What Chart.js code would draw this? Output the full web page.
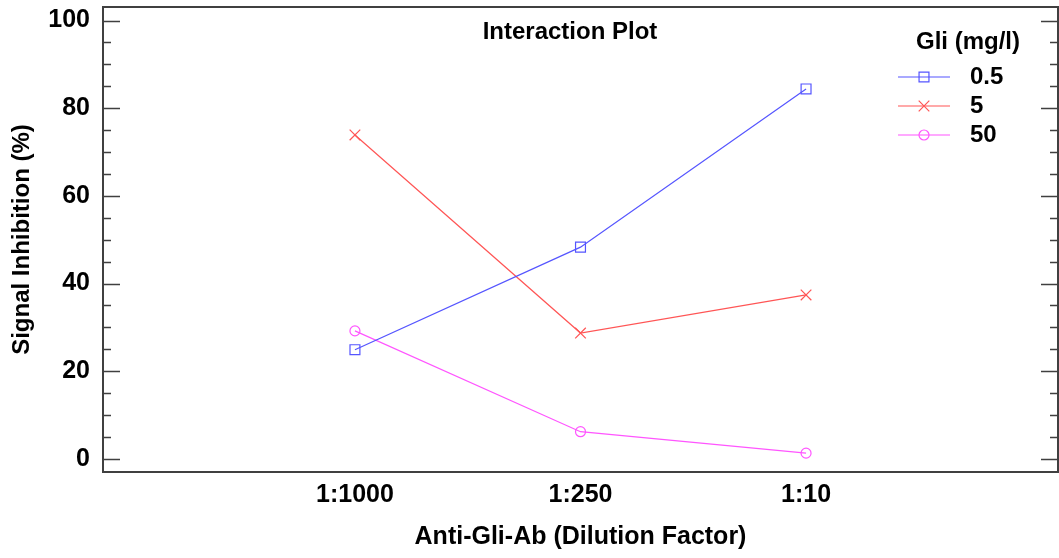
<!DOCTYPE html>
<html>
<head>
<meta charset="utf-8">
<title>Interaction Plot</title>
<script src="https://cdn.jsdelivr.net/npm/chart.js@4"></script>
<style>
  html, body { margin: 0; padding: 0; background: #fff; }
  #wrap { width: 1059px; height: 558px; }
</style>
</head>
<body>
<div id="wrap"><canvas id="chart" width="1059" height="558"></canvas></div>
<script>
// categories on the x axis (dilution factor)
const dilutions = ['1:1000', '1:250', '1:10'];
// one series per Gli concentration
const seriesNames = ['0.5', '5', '50'];
const gli05 = [24.9, 48.3, 84.4];
const gli5 = [73.9, 28.7, 37.4];
const gli50 = [29.2, 6.2, 1.3];
const yTicks = [0, 20, 40, 60, 80, 100];

const FONT = 'Liberation Sans, Arial, sans-serif';
const FRAME = '#404040';

const colors = ['rgb(85,85,255)', 'rgb(255,85,85)', 'rgb(255,85,255)'];
const styles = ['rect', 'crossRot', 'circle'];
const radii = [7, 7.5, 5];

function toPoints(vals) {
  return vals.map((v, i) => ({ x: i, y: v }));
}

const datasets = [gli05, gli5, gli50].map((vals, i) => ({
  label: seriesNames[i],
  data: toPoints(vals),
  borderColor: colors[i],
  backgroundColor: 'rgba(0,0,0,0)',
  borderWidth: 1.2,
  pointStyle: styles[i],
  pointRadius: radii[i],
  pointHoverRadius: radii[i],
  pointBorderColor: colors[i],
  pointBackgroundColor: 'rgba(0,0,0,0)',
  pointBorderWidth: 1.2,
  tension: 0,
}));

// frame, inner ticks, title and legend drawn on top of the plot
const decorations = {
  id: 'decorations',
  afterDraw(chart) {
    const ctx = chart.ctx;
    const a = chart.chartArea;
    const y = chart.scales.y;
    ctx.save();

    // y ticks on both sides, pointing inwards
    ctx.strokeStyle = FRAME;
    ctx.lineWidth = 1.3;
    for (let v = 0; v <= 100; v += 5) {
      const py = Math.round(y.getPixelForValue(v)) + 0.5;
      const len = v % 20 === 0 ? 17 : 8;
      ctx.beginPath();
      ctx.moveTo(a.left, py);
      ctx.lineTo(a.left + len, py);
      ctx.moveTo(a.right, py);
      ctx.lineTo(a.right - len, py);
      ctx.stroke();
    }

    // frame
    ctx.lineWidth = 2;
    ctx.strokeRect(a.left, a.top, a.right - a.left, a.bottom - a.top);

    // chart title inside the plot
    ctx.fillStyle = '#000';
    ctx.font = 'bold 24px ' + FONT;
    ctx.textAlign = 'center';
    ctx.textBaseline = 'middle';
    ctx.fillText('Interaction Plot', 570, 32);

    // legend
    ctx.fillText('Gli (mg/l)', 968, 42);
    const rows = [77, 106, 135];
    chart.data.datasets.forEach((ds, i) => {
      const ry = rows[i];
      ctx.strokeStyle = ds.borderColor;
      ctx.lineWidth = 1.2;
      ctx.beginPath();
      ctx.moveTo(898, ry);
      ctx.lineTo(950, ry);
      ctx.stroke();
      ctx.fillStyle = 'rgba(0,0,0,0)';
      Chart.helpers.drawPoint(ctx, {
        pointStyle: ds.pointStyle,
        radius: ds.pointRadius,
        rotation: 0,
        borderWidth: 1.2,
      }, 924, ry);
      ctx.fillStyle = '#000';
      ctx.textAlign = 'left';
      ctx.font = 'bold 24px ' + FONT;
      ctx.fillText(ds.label, 970, ry);
    });

    ctx.restore();
  }
};

function noPadding(s) {
  s.paddingTop = 0;
  s.paddingBottom = 0;
  s.paddingLeft = 0;
  s.paddingRight = 0;
}

new Chart(document.getElementById('chart').getContext('2d'), {
  type: 'line',
  data: { datasets: datasets },
  options: {
    responsive: false,
    animation: false,
    events: [],
    layout: { autoPadding: false, padding: { left: 0, right: 1, top: 7, bottom: 0 } },
    plugins: {
      legend: { display: false },
      title: { display: false },
      tooltip: { enabled: false },
    },
    scales: {
      x: {
        type: 'linear',
        min: -1.117,
        max: 3.117,
        grid: { display: false, drawTicks: false },
        border: { display: false },
        afterBuildTicks: (s) => { s.ticks = dilutions.map((_, i) => ({ value: i })); },
        afterFit: (s) => { s.height = 86; noPadding(s); },
        ticks: {
          autoSkip: false,
          maxRotation: 0,
          padding: 8,
          color: '#000',
          font: { family: FONT, size: 25, weight: 'bold' },
          callback: (v) => dilutions[v],
        },
        title: {
          display: true,
          text: 'Anti-Gli-Ab (Dilution Factor)',
          color: '#000',
          padding: { top: 0, bottom: 6 },
          font: { family: FONT, size: 25, weight: 'bold' },
        },
      },
      y: {
        min: -3,
        max: 103.1,
        grid: { display: false, drawTicks: false },
        border: { display: false },
        afterBuildTicks: (s) => { s.ticks = yTicks.map((v) => ({ value: v })); },
        afterFit: (s) => { s.width = 103; noPadding(s); },
        ticks: {
          padding: 13,
          color: '#000',
          font: { family: FONT, size: 25, weight: 'bold' },
        },
        title: {
          display: true,
          text: 'Signal Inhibition (%)',
          color: '#000',
          padding: { top: 8, bottom: 0 },
          font: { family: FONT, size: 24, weight: 'bold' },
        },
      },
    },
  },
  plugins: [decorations],
});
</script>
</body>
</html>
